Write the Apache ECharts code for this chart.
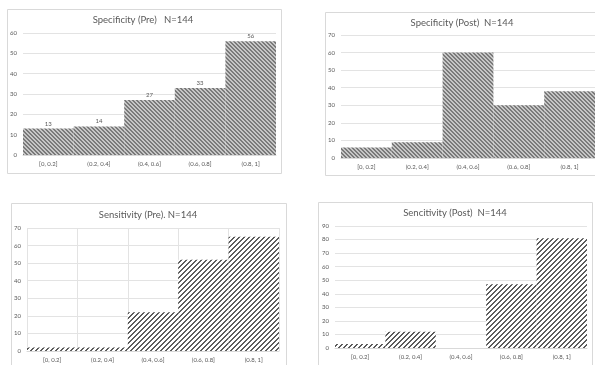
<!DOCTYPE html>
<html>
<head>
<meta charset="utf-8">
<script src="https://cdn.jsdelivr.net/npm/echarts@6/dist/echarts.min.js"></script>
<style>
  html, body { margin: 0; padding: 0; background: #fff; }
  #chart { width: 595px; height: 365px; }
</style>
</head>
<body>
<div id="chart"></div>
<script>
// Score bins shared by all four histograms
const bins = ['[0, 0.2]', '(0.2, 0.4]', '(0.4, 0.6]', '(0.6, 0.8]', '(0.8, 1]'];

// Counts per bin
const specificityPre  = [13, 14, 27, 33, 56];
const specificityPost = [6, 9, 60, 30, 38];
const sensitivityPre  = [2, 2, 22, 52, 65];
const sensitivityPost = [3, 12, 0, 47, 81];

// Panel titles
const titles = [
  'Specificity (Pre)   N=144',
  'Specificity (Post)  N=144',
  'Sensitivity (Pre). N=144',
  'Sencitivity (Post)  N=144'
];

// Small repeating hatch tiles built pixel by pixel
function hatch(size, dir, darkCols, dark, light) {
  const c = document.createElement('canvas');
  c.width = size; c.height = size;
  const g = c.getContext('2d');
  g.fillStyle = light;
  g.fillRect(0, 0, size, size);
  g.fillStyle = dark;
  for (let y = 0; y < size; y++) {
    for (let x = 0; x < size; x++) {
      const k = dir === 'back' ? ((x - y) % size + size) % size : (x + y) % size;
      if (k < darkCols) g.fillRect(x, y, 1, 1);
    }
  }
  return { image: c, repeat: 'repeat' };
}

const denseHatch = hatch(4, 'back', 2, '#7a7a7a', '#c6c6c6');
const wideHatch = hatch(5, 'fwd', 2, '#5c5c5c', '#ffffff');

const FONT = 'Lato';
const TXT = '#595959';
const GRID_LINE = '#e3e3e3';

// Panel layout: plot rectangles and frames
const panels = [
  { grid: { left: 23, top: 33, width: 253, height: 122 }, max: 60, data: specificityPre,  fill: denseHatch, vgrid: false, labels: true,
    title: { x: 143, y: 15 }, frame: { x: 7, y: 9, w: 274, h: 164 } },
  { grid: { left: 341, top: 35, width: 254, height: 123 }, max: 70, data: specificityPost, fill: denseHatch, vgrid: false, labels: false,
    title: { x: 462, y: 18 }, frame: { x: 325, y: 12, w: 280, h: 163 } },
  { grid: { left: 27, top: 228, width: 252, height: 123 }, max: 70, data: sensitivityPre,  fill: wideHatch, vgrid: true, labels: false,
    title: { x: 148, y: 210 }, frame: { x: 11, y: 203, w: 275, h: 180 } },
  { grid: { left: 335, top: 226, width: 252, height: 122 }, max: 90, data: sensitivityPost, fill: wideHatch, vgrid: false, labels: false,
    title: { x: 455, y: 208 }, frame: { x: 318, y: 202, w: 274, h: 180 } }
];

const option = {
  animation: false,
  backgroundColor: '#ffffff',
  textStyle: { fontFamily: FONT },
  graphic: panels.map(p => ({
    type: 'rect',
    silent: true,
    z: -10,
    shape: { x: p.frame.x + 0.5, y: p.frame.y + 0.5, width: p.frame.w, height: p.frame.h },
    style: { fill: 'none', stroke: '#d9d9d9', lineWidth: 1 }
  })),
  title: panels.map((p, i) => ({
    text: titles[i],
    left: p.title.x,
    top: p.title.y,
    textAlign: 'center',
    padding: 0,
    textStyle: { fontFamily: FONT, fontSize: 9.5, fontWeight: 'normal', color: TXT }
  })),
  grid: panels.map(p => Object.assign({ containLabel: false }, p.grid)),
  xAxis: panels.map((p, i) => ({
    type: 'category',
    gridIndex: i,
    data: bins,
    axisLine: { show: true, lineStyle: { color: '#d9d9d9', width: 1 } },
    axisTick: { show: false },
    axisLabel: { color: TXT, fontSize: 6, fontFamily: FONT, margin: 6, interval: 0 },
    splitLine: { show: p.vgrid, interval: 0, lineStyle: { color: GRID_LINE, width: 1 } }
  })),
  yAxis: panels.map((p, i) => ({
    type: 'value',
    gridIndex: i,
    min: 0,
    max: p.max,
    interval: 10,
    axisLine: { show: false },
    axisTick: { show: false },
    axisLabel: { color: TXT, fontSize: 6, fontFamily: FONT, margin: 6 },
    splitLine: { show: true, lineStyle: { color: GRID_LINE, width: 1 } }
  })),
  series: panels.map((p, i) => ({
    type: 'bar',
    xAxisIndex: i,
    yAxisIndex: i,
    data: p.data,
    barCategoryGap: '0%',
    itemStyle: { color: p.fill },
    label: {
      show: p.labels,
      position: 'top',
      distance: 2,
      color: TXT,
      fontSize: 6,
      fontFamily: FONT
    }
  }))
};

const chart = echarts.init(document.getElementById('chart'), null, { renderer: 'canvas' });
chart.setOption(option);
</script>
</body>
</html>
